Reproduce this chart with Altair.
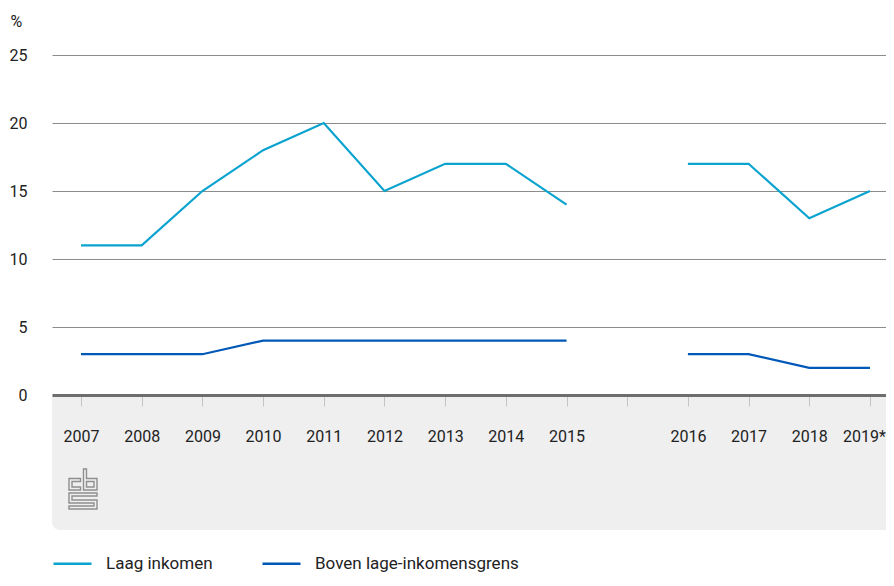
import base64
import altair as alt
import pandas as pd

# ---- data ----
years = ["2007", "2008", "2009", "2010", "2011", "2012", "2013", "2014", "2015",
         "", "2016", "2017", "2018", "2019*"]
# position index of each year on the axis (index 9 is the break between series parts)
pos_part1 = [0, 1, 2, 3, 4, 5, 6, 7, 8]
pos_part2 = [10, 11, 12, 13]
laag_part1 = [11, 11, 15, 18, 20, 15, 17, 17, 14]
laag_part2 = [17, 17, 13, 15]
boven_part1 = [3, 3, 3, 4, 4, 4, 4, 4, 4]
boven_part2 = [3, 3, 2, 2]
series_names = ["Laag inkomen", "Boven lage-inkomensgrens"]
colors = ["#0aa3cf", "#0058b8"]
y_ticks = [0, 5, 10, 15, 20, 25]

rows = []
for name, p1, p2 in [(series_names[0], laag_part1, laag_part2),
                     (series_names[1], boven_part1, boven_part2)]:
    for x, v in zip(pos_part1, p1):
        rows.append({"pos": x, "jaar": years[x], "serie": name, "deel": 1, "waarde": v})
    for x, v in zip(pos_part2, p2):
        rows.append({"pos": x, "jaar": years[x], "serie": name, "deel": 2, "waarde": v})
df = pd.DataFrame(rows)

FONT = "Roboto"
W, H = 834, 340

label_expr = "[" + ",".join("'%s'" % y for y in years) + "][datum.value]"

x_enc = alt.X(
    "pos:Q",
    scale=alt.Scale(domain=[-0.478, 13.264], nice=False, zero=False),
    axis=alt.Axis(
        values=list(range(len(years))),
        labelExpr=label_expr,
        title=None,
        grid=False,
        domainColor="#6e6e6e",
        domainWidth=3,
        tickColor="#c4c4c4",
        tickWidth=1,
        tickSize=11,
        labelPadding=22,
        labelFont=FONT,
        labelFontSize=16,
        labelColor="#222222",
        labelFlush=False,
        labelOverlap=False,
        labelOffset={"condition": {"test": "datum.value == 13", "value": -6}, "value": 0},
        zindex=1,
    ),
)
y_enc = alt.Y(
    "waarde:Q",
    scale=alt.Scale(domain=[0, 25], nice=False),
    axis=alt.Axis(
        values=y_ticks,
        domain=False,
        ticks=False,
        grid=True,
        gridColor="#8c8c8c",
        gridWidth=1,
        labelPadding=25,
        labelFont=FONT,
        labelFontSize=16,
        labelColor="#222222",
        title="%",
        titleAngle=0,
        titleAlign="left",
        titleBaseline="alphabetic",
        titleX=-42,
        titleY=-29,
        titleFont=FONT,
        titleFontSize=16,
        titleFontWeight="normal",
        titleColor="#222222",
    ),
)

# grey footer band below the x axis
band = alt.Chart(pd.DataFrame({"a": [0]})).mark_rect(
    color="#efefef", cornerRadiusBottomLeft=8
).encode(
    x=alt.value(0), x2=alt.value(W), y=alt.value(H), y2=alt.value(H + 135)
)

# CBS logo (outline glyphs)
logo_svg = (
    '<svg xmlns="http://www.w3.org/2000/svg" width="30" height="42" viewBox="0 0 30 42">'
    '<g fill="none" stroke="#8e8e8e" stroke-width="1.4">'
    '<path d="M12.5,10.5 H1 V22 H12.5 V19 H4 V13.5 H12.5 Z"/>'
    '<path d="M15.5,1 V22 H29 V10.5 H18.5 V1 Z"/>'
    '<path d="M18.5,13.5 H26 V19 H18.5 Z"/>'
    '<path d="M1,25 H29 V28 H4 V32 H29 V41 H1 V38 H26 V35 H1 Z"/>'
    '</g></svg>'
)
logo_uri = "data:image/svg+xml;base64," + base64.b64encode(logo_svg.encode()).decode()
logo = alt.Chart(pd.DataFrame({"a": [0]})).mark_image(width=30, height=42).encode(
    x=alt.value(31), y=alt.value(434), url=alt.value(logo_uri)
)

lines = alt.Chart(df).mark_line(strokeWidth=2.2).encode(
    x=x_enc,
    y=y_enc,
    detail="deel:N",
    color=alt.Color(
        "serie:N",
        scale=alt.Scale(domain=series_names, range=colors),
        legend=alt.Legend(
            title=None,
            orient="none",
            legendX=0,
            legendY=488,
            padding=0,
            direction="horizontal",
            symbolType="stroke",
            symbolSize=1444,
            symbolStrokeWidth=2.5,
            labelOffset=13,
            columnPadding=44,
            labelFont=FONT,
            labelFontSize=17,
            labelColor="#222222",
            labelLimit=400,
        ),
    ),
)

chart = alt.layer(band, lines, logo).properties(
    width=W,
    height=H,
    autosize=alt.AutoSizeParams(type="none"),
    padding={"left": 44, "top": 47, "right": 0, "bottom": 178},
).configure_view(stroke=None)

chart.save("out.html", embed_options={"renderer": "svg", "actions": False})
